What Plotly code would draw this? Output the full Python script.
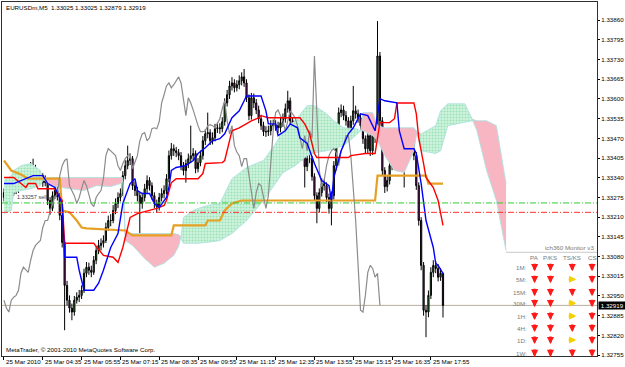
import plotly.graph_objects as go
import numpy as np

# ---------------- data (EURUSDm, M5) ----------------
bars = list(range(182))
opens = [1.33275,1.33291,1.33281,1.33304,1.33288,1.33314,1.33298,1.33311,1.33331,1.33344,
 1.33357,1.33364,1.33377,1.33370,1.33357,1.33337,1.33347,1.33324,1.33331,1.33265,
 1.33239,1.33281,1.33298,1.33278,1.33216,1.33127,1.32985,1.32936,1.32910,1.32897,
 1.32936,1.32946,1.32952,1.32969,1.33025,1.33045,1.33035,1.33028,1.33068,1.33100,
 1.33117,1.33124,1.33133,1.33176,1.33199,1.33199,1.33232,1.33255,1.33275,1.33288,
 1.33347,1.33380,1.33397,1.33403,1.33314,1.33298,1.33281,1.33255,1.33275,1.33304,
 1.33331,1.33314,1.33281,1.33255,1.33245,1.33275,1.33288,1.33298,1.33337,1.33413,
 1.33436,1.33429,1.33423,1.33413,1.33380,1.33364,1.33387,1.33403,1.33413,1.33420,
 1.33370,1.33390,1.33413,1.33462,1.33485,1.33489,1.33462,1.33472,1.33502,1.33505,
 1.33502,1.33525,1.33587,1.33614,1.33643,1.33653,1.33637,1.33647,1.33660,1.33673,
 1.33653,1.33604,1.33545,1.33604,1.33587,1.33564,1.33535,1.33512,1.33492,1.33492,
 1.33495,1.33512,1.33515,1.33512,1.33505,1.33522,1.33535,1.33568,1.33594,1.33528,
 1.33485,1.33512,1.33446,1.33425,1.33413,1.33377,1.33403,1.33403,1.33344,1.33281,
 1.33239,1.33291,1.33321,1.33314,1.33275,1.33239,1.33281,1.33380,1.33495,1.33555,
 1.33564,1.33545,1.33528,1.33495,1.33528,1.33561,1.33551,1.33538,1.33512,1.33469,
 1.33436,1.33479,1.33429,1.33495,1.33472,1.33742,1.33528,1.33364,1.33311,1.33331,
 1.33380,1.33413,1.33429,1.33436,1.33423,1.33380,1.33429,1.33446,1.33479,1.33479,
 1.33413,1.33314,1.33199,1.33051,1.32903,1.32897,1.32952,1.33028,1.33051,1.33041,
 1.33012,1.33025]
highs = [1.33305,1.33302,1.33318,1.33315,1.33326,1.33325,1.33324,1.33345,1.33358,1.33372,
 1.33382,1.33392,1.33403,1.33383,1.33366,1.33360,1.33355,1.33348,1.33340,1.33276,
 1.33295,1.33318,1.33310,1.33290,1.33225,1.33135,1.33000,1.32952,1.32925,1.32950,
 1.32962,1.32970,1.32985,1.33040,1.33062,1.33060,1.33050,1.33082,1.33115,1.33135,
 1.33140,1.33150,1.33192,1.33215,1.33220,1.33250,1.33272,1.33292,1.33305,1.33362,
 1.33398,1.33446,1.33420,1.33412,1.33328,1.33310,1.33292,1.33290,1.33320,1.33348,
 1.33342,1.33325,1.33292,1.33268,1.33290,1.33305,1.33315,1.33352,1.33430,1.33455,
 1.33450,1.33442,1.33435,1.33425,1.33392,1.33400,1.33420,1.33512,1.33438,1.33430,
 1.33405,1.33430,1.33478,1.33500,1.33555,1.33500,1.33490,1.33518,1.33522,1.33520,
 1.33540,1.33602,1.33630,1.33660,1.33672,1.33665,1.33662,1.33678,1.33688,1.33699,
 1.33665,1.33615,1.33620,1.33618,1.33600,1.33578,1.33548,1.33525,1.33510,1.33512,
 1.33530,1.33532,1.33530,1.33525,1.33540,1.33552,1.33585,1.33627,1.33605,1.33540,
 1.33528,1.33522,1.33460,1.33440,1.33425,1.33418,1.33420,1.33412,1.33355,1.33292,
 1.33305,1.33338,1.33335,1.33325,1.33288,1.33295,1.33395,1.33510,1.33572,1.33582,
 1.33578,1.33560,1.33540,1.33545,1.33643,1.33578,1.33565,1.33550,1.33525,1.33480,
 1.33495,1.33490,1.33510,1.33508,1.33857,1.33755,1.33540,1.33375,1.33348,1.33395,
 1.33430,1.33448,1.33455,1.33450,1.33435,1.33445,1.33462,1.33495,1.33498,1.33490,
 1.33425,1.33325,1.33210,1.33062,1.32920,1.32968,1.33045,1.33068,1.33065,1.33055,
 1.33042,1.33025]
lows = [1.33262,1.33268,1.33272,1.33276,1.33280,1.33286,1.33290,1.33302,1.33322,1.33335,
 1.33345,1.33352,1.33358,1.33342,1.33325,1.33324,1.33310,1.33312,1.33250,1.33218,
 1.33230,1.33270,1.33265,1.33200,1.33110,1.32837,1.32918,1.32895,1.32870,1.32885,
 1.32925,1.32930,1.32940,1.32960,1.33012,1.33020,1.33012,1.33020,1.33055,1.33088,
 1.33100,1.33110,1.33125,1.33165,1.33180,1.33190,1.33220,1.33240,1.33262,1.33280,
 1.33335,1.33368,1.33382,1.33300,1.33280,1.33262,1.33133,1.33238,1.33262,1.33290,
 1.33298,1.33268,1.33240,1.33225,1.33232,1.33262,1.33272,1.33285,1.33325,1.33400,
 1.33412,1.33408,1.33398,1.33365,1.33348,1.33324,1.33372,1.33390,1.33398,1.33355,
 1.33358,1.33378,1.33400,1.33448,1.33470,1.33448,1.33450,1.33460,1.33488,1.33485,
 1.33490,1.33512,1.33575,1.33600,1.33628,1.33622,1.33625,1.33632,1.33645,1.33640,
 1.33590,1.33530,1.33532,1.33570,1.33550,1.33520,1.33498,1.33478,1.33475,1.33478,
 1.33480,1.33498,1.33495,1.33488,1.33490,1.33508,1.33522,1.33555,1.33512,1.33470,
 1.33472,1.33430,1.33410,1.33398,1.33308,1.33362,1.33388,1.33330,1.33265,1.33190,
 1.33225,1.33278,1.33298,1.33260,1.33222,1.33183,1.33268,1.33365,1.33480,1.33540,
 1.33530,1.33512,1.33480,1.33482,1.33515,1.33535,1.33522,1.33498,1.33452,1.33420,
 1.33422,1.33412,1.33415,1.33455,1.33460,1.33512,1.33348,1.33290,1.33295,1.33318,
 1.33365,1.33400,1.33415,1.33408,1.33365,1.33308,1.33415,1.33432,1.33462,1.33398,
 1.33300,1.33182,1.33035,1.32885,1.32814,1.32880,1.32940,1.33012,1.33025,1.32998,
 1.33000,1.32879]
closes = [1.33291,1.33281,1.33304,1.33288,1.33314,1.33298,1.33311,1.33331,1.33344,1.33357,
 1.33364,1.33377,1.33370,1.33357,1.33337,1.33347,1.33324,1.33331,1.33265,1.33239,
 1.33281,1.33298,1.33278,1.33216,1.33127,1.32985,1.32936,1.32910,1.32897,1.32936,
 1.32946,1.32952,1.32969,1.33025,1.33045,1.33035,1.33028,1.33068,1.33100,1.33117,
 1.33124,1.33133,1.33176,1.33199,1.33199,1.33232,1.33255,1.33275,1.33288,1.33347,
 1.33380,1.33397,1.33403,1.33314,1.33298,1.33281,1.33255,1.33275,1.33304,1.33331,
 1.33314,1.33281,1.33255,1.33245,1.33275,1.33288,1.33298,1.33337,1.33413,1.33436,
 1.33429,1.33423,1.33413,1.33380,1.33364,1.33387,1.33403,1.33413,1.33420,1.33370,
 1.33390,1.33413,1.33462,1.33485,1.33489,1.33462,1.33472,1.33502,1.33505,1.33502,
 1.33525,1.33587,1.33614,1.33643,1.33653,1.33637,1.33647,1.33660,1.33673,1.33653,
 1.33604,1.33545,1.33604,1.33587,1.33564,1.33535,1.33512,1.33492,1.33492,1.33495,
 1.33512,1.33515,1.33512,1.33505,1.33522,1.33535,1.33568,1.33594,1.33528,1.33485,
 1.33512,1.33446,1.33425,1.33413,1.33377,1.33403,1.33403,1.33344,1.33281,1.33239,
 1.33291,1.33321,1.33314,1.33275,1.33239,1.33281,1.33380,1.33495,1.33555,1.33564,
 1.33545,1.33528,1.33495,1.33528,1.33561,1.33551,1.33538,1.33512,1.33469,1.33436,
 1.33479,1.33429,1.33495,1.33472,1.33742,1.33528,1.33364,1.33311,1.33331,1.33380,
 1.33413,1.33429,1.33436,1.33423,1.33380,1.33429,1.33446,1.33479,1.33479,1.33413,
 1.33314,1.33199,1.33051,1.32903,1.32897,1.32952,1.33028,1.33051,1.33041,1.33012,
 1.33025,1.32919]

# Tenkan-sen (blue)
tenkan_bar = [0,4,12,16,18,21,24,25,30,31,33,37,39,41,44,47,49,52,54,55,57,60,62,64,67,68,69,71,75,78,
 80,83,86,89,91,94,97,100,106,108,109,112,113,116,118,121,122,125,128,131,134,135,136,139,142,144,147,150,153,155,
 157,162,163,165,169,170,172,174,177,178,179,181]
tenkan_val = [1.33321,1.33321,1.33347,1.33347,1.33321,1.33308,1.33255,1.33078,1.33078,1.33035,
 1.32969,1.32969,1.32992,1.33035,1.33110,1.33156,1.33255,1.33321,1.33337,1.33298,
 1.33288,1.33288,1.33255,1.33242,1.33275,1.33308,1.33364,1.33374,1.33380,1.33397,
 1.33420,1.33439,1.33462,1.33469,1.33485,1.33538,1.33561,1.33610,1.33610,1.33561,
 1.33518,1.33518,1.33479,1.33495,1.33518,1.33505,1.33472,1.33453,1.33387,1.33331,
 1.33314,1.33265,1.33341,1.33429,1.33485,1.33505,1.33551,1.33545,1.33495,1.33601,
 1.33594,1.33587,1.33495,1.33436,1.33436,1.33420,1.33321,1.33199,1.33110,1.33058,
 1.33051,1.33025]
# Kijun-sen (red)
kijun_bar = [0,4,9,10,13,14,21,22,24,25,37,38,41,45,47,49,51,52,55,60,63,66,67,69,71,80,82,83,90,91,
 94,97,100,102,105,106,109,122,124,126,128,129,142,143,149,153,154,155,159,161,162,169,170,171,173,174,177,179,181]
kijun_val = [1.33341,1.33341,1.33308,1.33321,1.33321,1.33304,1.33304,1.33288,1.33265,1.33124,
 1.33124,1.33114,1.33084,1.33078,1.33061,1.33110,1.33176,1.33209,1.33222,1.33232,
 1.33239,1.33249,1.33265,1.33324,1.33337,1.33337,1.33354,1.33387,1.33390,1.33397,
 1.33495,1.33505,1.33518,1.33528,1.33538,1.33545,1.33538,1.33538,1.33518,1.33485,
 1.33420,1.33407,1.33407,1.33413,1.33420,1.33420,1.33472,1.33522,1.33522,1.33535,
 1.33587,1.33587,1.33551,1.33472,1.33387,1.33341,1.33308,1.33265,1.33183]
# orange level line
orange_bar = [0,3,7,10,23,24,27,30,32,34,50,53,69,70,83,84,89,91,94,98,153,154,174,175,181]
orange_val = [1.33397,1.33364,1.33351,1.33337,1.33337,1.33232,1.33226,1.33199,1.33176,1.33173,
 1.33166,1.33150,1.33150,1.33183,1.33183,1.33199,1.33199,1.33232,1.33255,1.33265,
 1.33265,1.33347,1.33347,1.33321,1.33321]
# Kumo (Senkou span A / B), shifted 26 bars forward
cloud_bar = [0,3,4,7,11,15,16,19,27,33,38,44,48,49,50,53,58,62,66,70,72,73,74,78,80,84,89,94,100,107,
 112,115,120,125,128,133,136,140,145,147,148,152,154,157,161,165,169,170,172,178,180,183,190,193,195,199,203,207]
spanA = [1.33331,1.33347,1.33364,1.33380,1.33387,1.33364,1.33337,1.33314,1.33304,1.33298,
 1.33314,1.33311,1.33321,1.33328,1.33133,1.33117,1.33074,1.33045,1.33058,1.33084,
 1.33114,1.33147,1.33209,1.33232,1.33239,1.33249,1.33255,1.33337,1.33374,1.33397,
 1.33453,1.33495,1.33528,1.33578,1.33578,1.33551,1.33528,1.33505,1.33502,1.33495,
 1.33495,1.33479,1.33462,1.33413,1.33364,1.33357,1.33429,1.33479,1.33485,1.33512,
 1.33561,1.33584,1.33584,1.33535,1.33495,1.33364,1.33265,1.33100]
spanB = [1.33222,1.33232,1.33291,1.33298,1.33304,1.33314,1.33331,1.33341,1.33341,1.33341,
 1.33341,1.33341,1.33341,1.33341,1.33156,1.33156,1.33156,1.33156,1.33156,1.33156,
 1.33153,1.33140,1.33124,1.33124,1.33124,1.33127,1.33133,1.33156,1.33199,1.33265,
 1.33321,1.33357,1.33380,1.33413,1.33423,1.33429,1.33436,1.33446,1.33479,1.33495,
 1.33555,1.33555,1.33512,1.33505,1.33505,1.33505,1.33505,1.33495,1.33429,1.33420,
 1.33429,1.33512,1.33522,1.33528,1.33528,1.33528,1.33512,1.33321]
chikou_shift = 26
order_price = 1.33257
tp_price = 1.33226
last_price = 1.32919

y_ticks = ["1.32755","1.32820","1.32885","1.32950","1.33015","1.33080","1.33145","1.33210","1.33275",
 "1.33340","1.33405","1.33470","1.33535","1.33600","1.33665","1.33730","1.33795","1.33860"]
x_tick_bars = [0,16,32,48,64,80,96,112,128,144,160,176]
x_tick_text = ["25 Mar 2010","25 Mar 04:35","25 Mar 05:55","25 Mar 07:15","25 Mar 08:35","25 Mar 09:55",
 "25 Mar 11:15","25 Mar 12:35","25 Mar 13:55","25 Mar 15:15","25 Mar 16:35","25 Mar 17:55"]
monitor_rows = ["1M:","5M:","15M:","30M:","1H:","4H:","1D:","1W:"]
monitor_cols = ["PA","P/KS","TS/KS","CS"]
monitor_sig = [["d","d","d","d"],["d","d","r","d"],["d","d","d","d"],["d","d","r","d"],
               ["d","d","r","d"],["d","d","d","d"],["d","d","r","d"],["d","d","d","d"]]

# ---------------- figure ----------------
FONT = "Liberation Sans"
W, H = 625, 367
ML, MR, MT, MB = 1, 23, 1, 11
PW, PH = W - ML - MR, H - MT - MB

def pxx(px):
    return (px - ML) / PW

def pxy(py):
    return (H - MB - py) / PH

fig = go.Figure()

A = np.array(spanA); B = np.array(spanB); top = np.maximum(A, B)
# green kumo (A above B)
fig.add_trace(go.Scatter(x=cloud_bar, y=B, mode="lines", line=dict(width=0), hoverinfo="skip", showlegend=False))
fig.add_trace(go.Scatter(x=cloud_bar, y=top, mode="lines", line=dict(width=0), fill="tonexty",
                         fillcolor="rgba(170,232,195,1)",
                         fillpattern=dict(shape=".", bgcolor="rgba(208,244,222,1)", fgcolor="rgba(105,205,145,1)",
                                          size=3, solidity=0.4),
                         hoverinfo="skip", showlegend=False))
# pink kumo (B above A)
fig.add_trace(go.Scatter(x=cloud_bar, y=A, mode="lines", line=dict(width=0), hoverinfo="skip", showlegend=False))
fig.add_trace(go.Scatter(x=cloud_bar, y=top, mode="lines", line=dict(width=0), fill="tonexty",
                         fillcolor="rgba(248,182,194,1)", hoverinfo="skip", showlegend=False))
# kumo edges
fig.add_trace(go.Scatter(x=cloud_bar, y=spanA, mode="lines", line=dict(color="rgba(175,225,225,0.9)", width=1),
                         hoverinfo="skip", showlegend=False))
fig.add_trace(go.Scatter(x=cloud_bar, y=spanB, mode="lines", line=dict(color="rgba(175,225,225,0.9)", width=1),
                         hoverinfo="skip", showlegend=False))

# candles
fig.add_trace(go.Candlestick(x=bars, open=opens, high=highs, low=lows, close=closes,
                             increasing=dict(line=dict(color="black", width=1), fillcolor="#2f8f2f"),
                             decreasing=dict(line=dict(color="black", width=1), fillcolor="#8a1a8a"),
                             whiskerwidth=0, showlegend=False))

# lines
fig.add_trace(go.Scatter(x=orange_bar, y=orange_val, mode="lines", line=dict(color="#e6a023", width=2.2),
                         showlegend=False))
fig.add_trace(go.Scatter(x=bars[:len(closes) - chikou_shift], y=closes[chikou_shift:], mode="lines",
                         line=dict(color="#8c8c8c", width=1.2), showlegend=False))
fig.add_trace(go.Scatter(x=kijun_bar, y=kijun_val, mode="lines", line=dict(color="#ff0000", width=1.4),
                         showlegend=False))
fig.add_trace(go.Scatter(x=tenkan_bar, y=tenkan_val, mode="lines", line=dict(color="#0000ff", width=1.4),
                         showlegend=False))

shapes = [
    dict(type="line", xref="paper", x0=0, x1=1, yref="y", y0=last_price, y1=last_price,
         line=dict(color="#b8ae9c", width=1), layer="below"),
    dict(type="line", xref="paper", x0=0, x1=1, yref="y", y0=order_price, y1=order_price,
         line=dict(color="#33cc33", width=1, dash="6px,2px,1px,2px")),
    dict(type="line", xref="paper", x0=0, x1=1, yref="y", y0=tp_price, y1=tp_price,
         line=dict(color="#ff3030", width=1, dash="6px,2px,1px,2px")),
    dict(type="line", xref="paper", x0=pxx(510), x1=1, yref="paper", y0=pxy(252), y1=pxy(252),
         line=dict(color="#c8c8c8", width=1)),
]

ann = []
ann.append(dict(text="EURUSDm,M5  1.33025 1.33025 1.32879 1.32919", x=pxx(3), y=pxy(7), xref="paper", yref="paper",
                xanchor="left", yanchor="middle", showarrow=False, font=dict(family=FONT, size=6.2, color="black")))
ann.append(dict(text="MetaTrader, © 2001-2010 MetaQuotes Software Corp.", x=pxx(3), y=pxy(349), xref="paper",
                yref="paper", xanchor="left", yanchor="middle", showarrow=False,
                font=dict(family=FONT, size=6.2, color="black")))
ann.append(dict(text="1.33257 sell", x=pxx(14), y=order_price, xref="paper", yref="y", xanchor="left",
                yanchor="bottom", yshift=1, showarrow=False, font=dict(family=FONT, size=5.5, color="#404040")))
for b, t in zip(x_tick_bars, x_tick_text):
    ann.append(dict(text=t, x=b, y=pxy(362), xref="x", yref="paper", xanchor="left", yanchor="middle",
                    xshift=0, showarrow=False, font=dict(family=FONT, size=6.2, color="black")))
ann.append(dict(text=" 1.32919 ", x=1, y=last_price, xref="paper", yref="y", xanchor="left", yanchor="middle",
                xshift=1, showarrow=False, bgcolor="black", borderpad=0,
                font=dict(family=FONT, size=6.2, color="white")))
# ich360 monitor panel
ann.append(dict(text="ich360 Monitor v3", x=pxx(601), y=pxy(247), xref="paper", yref="paper", xanchor="right",
                yanchor="middle", showarrow=False, font=dict(family=FONT, size=6.2, color="#7a7a7a")))
col_px = [539, 555, 577, 597]
row_py = [267, 279, 292, 303, 316, 328, 340, 353]
for cx, name in zip(col_px, monitor_cols):
    ann.append(dict(text=name, x=pxx(cx), y=pxy(257), xref="paper", yref="paper", xanchor="center",
                    yanchor="middle", showarrow=False, font=dict(family=FONT, size=6.2, color="#7a7a7a")))
for ry, lab, sig in zip(row_py, monitor_rows, monitor_sig):
    ann.append(dict(text=lab, x=pxx(533), y=pxy(ry), xref="paper", yref="paper", xanchor="right",
                    yanchor="middle", showarrow=False, font=dict(family=FONT, size=6.2, color="#7a7a7a")))
    for cx, s in zip(col_px, sig):
        if s == "d":
            ann.append(dict(text="", x=pxx(cx), y=pxy(ry + 4), xref="paper", yref="paper",
                            showarrow=True, ax=0, ay=-9, arrowhead=2, arrowsize=0.55, arrowwidth=2.6,
                            arrowcolor="#ff1a1a", standoff=0, startstandoff=0))
        else:
            ann.append(dict(text="", x=pxx(cx + 4), y=pxy(ry), xref="paper", yref="paper",
                            showarrow=True, ax=-9, ay=0, arrowhead=2, arrowsize=0.55, arrowwidth=2.6,
                            arrowcolor="#f5d000", standoff=0, startstandoff=0))

fig.update_layout(
    width=W, height=H, margin=dict(l=ML, r=MR, t=MT, b=MB),
    paper_bgcolor="white", plot_bgcolor="white",
    showlegend=False, shapes=shapes, annotations=ann,
    xaxis=dict(range=[-0.82, 244.5], showgrid=False, zeroline=False, rangeslider=dict(visible=False),
               showline=True, mirror=True, linecolor="#303030", linewidth=1,
               tickmode="array", tickvals=x_tick_bars, ticktext=[""] * len(x_tick_bars),
               ticks="outside", ticklen=3, tickcolor="black", showticklabels=False),
    yaxis=dict(range=[1.32752, 1.33920], side="right", showgrid=False, zeroline=False,
               showline=True, mirror=True, linecolor="#303030", linewidth=1,
               tickmode="array", tickvals=[float(v) for v in y_ticks], ticktext=y_ticks,
               ticks="outside", ticklen=2, tickcolor="black",
               tickfont=dict(family=FONT, size=6.2, color="black")),
    font=dict(family=FONT, size=6.2),
)

fig.write_html("out.html")
